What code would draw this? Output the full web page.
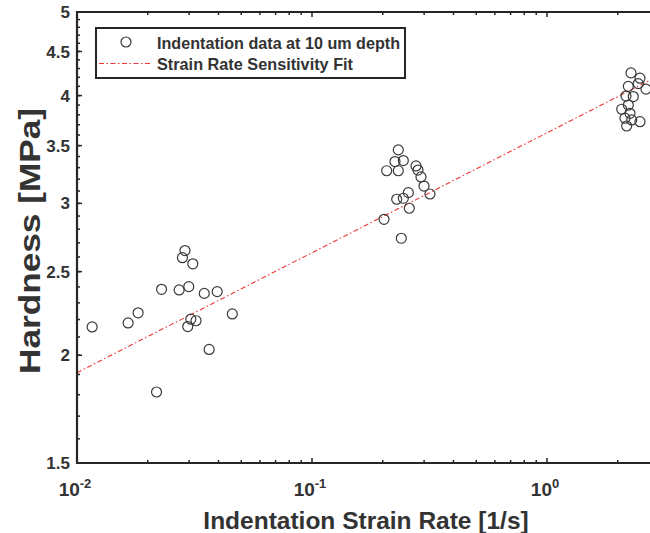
<!DOCTYPE html>
<html>
<head>
<meta charset="utf-8">
<script src="https://cdn.jsdelivr.net/npm/d3@7"></script>
<style>
  body { margin: 0; background: #fff; }
  svg { display: block; font-family: "Liberation Sans", Arial, sans-serif; }
</style>
</head>
<body>
<div id="chart"></div>
<script>
"use strict";

const width = 650,
  height = 533;

// plot box (the right side runs past the page edge, like the cropped source)
const margin = { top: 12, left: 77, bottom: 70 };

// indentation data at 10 um depth: strain rate [1/s], hardness [MPa]
const strainRate = [
  0.0116, 0.0165, 0.0182, 0.0218, 0.0229, 0.0272, 0.0281, 0.0288, 0.0299,
  0.0311, 0.0305, 0.0321, 0.0296, 0.0348, 0.0395, 0.0365, 0.0458,
  0.2025, 0.2079, 0.2255, 0.2329, 0.2447, 0.2329, 0.2293, 0.2447, 0.257,
  0.2594, 0.2399, 0.2771, 0.2825, 0.2909, 0.2997, 0.3177,
  2.079, 2.147, 2.168, 2.183, 2.218, 2.255, 2.277, 2.293, 2.329, 2.445,
  2.487, 2.637, 2.218, 2.487,
];
const hardness = [
  2.157, 2.18, 2.24, 1.813, 2.385, 2.381, 2.595, 2.645, 2.402,
  2.553, 2.202, 2.193, 2.159, 2.359, 2.37, 2.031, 2.233,
  2.875, 3.273, 3.354, 3.46, 3.363, 3.273, 3.033, 3.041, 3.087,
  2.961, 2.733, 3.315, 3.279, 3.219, 3.142, 3.076,
  3.857, 3.766, 3.995, 3.688, 3.9, 3.815, 4.25, 3.748, 3.99, 4.13,
  4.19, 4.07, 4.1, 3.731,
];

// strain rate sensitivity fit, end points
const fitRate = [0.01, 3];
const fitHardness = [1.909, 4.22];

// axes
const xDomain = [0.01, 3],
  yDomain = [1.5, 5];
const xTickValues = [0.01, 0.1, 1];
const xTickLabels = ["-2", "-1", "0"];
const yTickValues = [1.5, 2, 2.5, 3, 3.5, 4, 4.5, 5];
const yMinorTicks = d3.range(1.6, 5, 0.1).map((d) => +d.toFixed(1));
const xMinorTicks = [2, 3, 4, 5, 6, 7, 8, 9]
  .flatMap((m) => [m * 0.01, m * 0.1, m * 1])
  .filter((d) => d <= 3);

const legendItems = ["Indentation data at 10 um depth", "Strain Rate Sensitivity Fit"];
const legendTextLen = [243, 196];

const axisColor = "#262626",
  textColor = "#333333",
  markColor = "#3a3a3a",
  fitColor = "#ee3535";

const decade = 235; // px per decade on x
const x = d3
  .scaleLog()
  .domain(xDomain)
  .range([margin.left, margin.left + decade * Math.log10(xDomain[1] / xDomain[0])]);
const y = d3
  .scaleLog()
  .domain(yDomain)
  .range([height - margin.bottom, margin.top]);

const svg = d3
  .select("#chart")
  .append("svg")
  .attr("width", width)
  .attr("height", height);

const x0 = x.range()[0],
  x1 = x.range()[1],
  yb = y.range()[0],
  yt = y.range()[1];

const dashFit = "5 2.5 1.5 2.5";

// fit line
svg
  .append("line")
  .attr("x1", x(fitRate[0]))
  .attr("y1", y(fitHardness[0]))
  .attr("x2", x(fitRate[1]))
  .attr("y2", y(fitHardness[1]))
  .attr("stroke", fitColor)
  .attr("stroke-width", 1.1)
  .attr("stroke-dasharray", dashFit);

// data circles
svg
  .append("g")
  .selectAll("circle")
  .data(strainRate.map((d, i) => [d, hardness[i]]))
  .join("circle")
  .attr("cx", (d) => x(d[0]))
  .attr("cy", (d) => y(d[1]))
  .attr("r", 5)
  .attr("fill", "none")
  .attr("stroke", markColor)
  .attr("stroke-width", 1.2);

// ticks: inward, bottom/top and left
const tickG = svg.append("g").attr("stroke", axisColor).attr("stroke-width", 1.5);

const allX = xTickValues.map((v) => [v, 5]).concat(xMinorTicks.map((v) => [v, 3]));
allX.forEach(([v, len]) => {
  tickG.append("line").attr("x1", x(v)).attr("x2", x(v)).attr("y1", yb).attr("y2", yb - len);
  tickG.append("line").attr("x1", x(v)).attr("x2", x(v)).attr("y1", yt).attr("y2", yt + len);
});

const allY = yTickValues.map((v) => [v, 5]).concat(yMinorTicks.map((v) => [v, 3]));
allY.forEach(([v, len]) => {
  tickG.append("line").attr("x1", x0).attr("x2", x0 + len).attr("y1", y(v)).attr("y2", y(v));
});

// axes box
svg
  .append("path")
  .attr("d", `M${x1},${yt}H${x0}V${yb}H${x1}`)
  .attr("fill", "none")
  .attr("stroke", axisColor)
  .attr("stroke-width", 2.2);

// y tick labels
svg
  .append("g")
  .selectAll("text")
  .data(yTickValues)
  .join("text")
  .attr("x", x0 - 7)
  .attr("y", (d) => y(d))
  .attr("dy", "0.36em")
  .attr("text-anchor", "end")
  .attr("font-size", 17)
  .attr("font-weight", "bold")
  .attr("fill", textColor)
  .text((d) => d);

// x tick labels 10^n
const xl = svg
  .append("g")
  .selectAll("text")
  .data(xTickValues)
  .join("text")
  .attr("x", (d) => x(d) - 2)
  .attr("y", yb + 33)
  .attr("text-anchor", "middle")
  .attr("font-size", 19)
  .attr("font-weight", "bold")
  .attr("fill", textColor);
xl.append("tspan").text("10");
xl.append("tspan")
  .attr("dy", -8)
  .attr("font-size", 13)
  .text((d, i) => xTickLabels[i]);

// axis titles
svg
  .append("text")
  .attr("x", 366)
  .attr("y", 529)
  .attr("text-anchor", "middle")
  .attr("font-size", 24.5)
  .attr("font-weight", "bold")
  .attr("fill", textColor)
  .text("Indentation Strain Rate [1/s]");

svg
  .append("text")
  .attr("transform", `translate(40,241) rotate(-90)`)
  .attr("text-anchor", "middle")
  .attr("font-size", 29)
  .attr("font-weight", "bold")
  .attr("fill", textColor)
  .attr("textLength", 266)
  .attr("lengthAdjust", "spacingAndGlyphs")
  .text("Hardness [MPa]");

// legend
const lg = svg.append("g").attr("transform", "translate(96,28)");
lg.append("rect")
  .attr("width", 309)
  .attr("height", 50)
  .attr("fill", "#fff")
  .attr("stroke", axisColor)
  .attr("stroke-width", 2);
lg.append("circle")
  .attr("cx", 30)
  .attr("cy", 14)
  .attr("r", 5)
  .attr("fill", "none")
  .attr("stroke", markColor)
  .attr("stroke-width", 1.2);
lg.append("line")
  .attr("x1", 3)
  .attr("x2", 56)
  .attr("y1", 35.5)
  .attr("y2", 35.5)
  .attr("stroke", fitColor)
  .attr("stroke-width", 1.1)
  .attr("stroke-dasharray", dashFit);
lg.selectAll("text.item")
  .data(legendItems)
  .join("text")
  .attr("class", "item")
  .attr("x", 61)
  .attr("y", (d, i) => 21 + i * 21)
  .attr("font-size", 16.5)
  .attr("font-weight", "bold")
  .attr("fill", textColor)
  .attr("textLength", (d, i) => legendTextLen[i])
  .attr("lengthAdjust", "spacingAndGlyphs")
  .text((d) => d);
</script>
</body>
</html>
